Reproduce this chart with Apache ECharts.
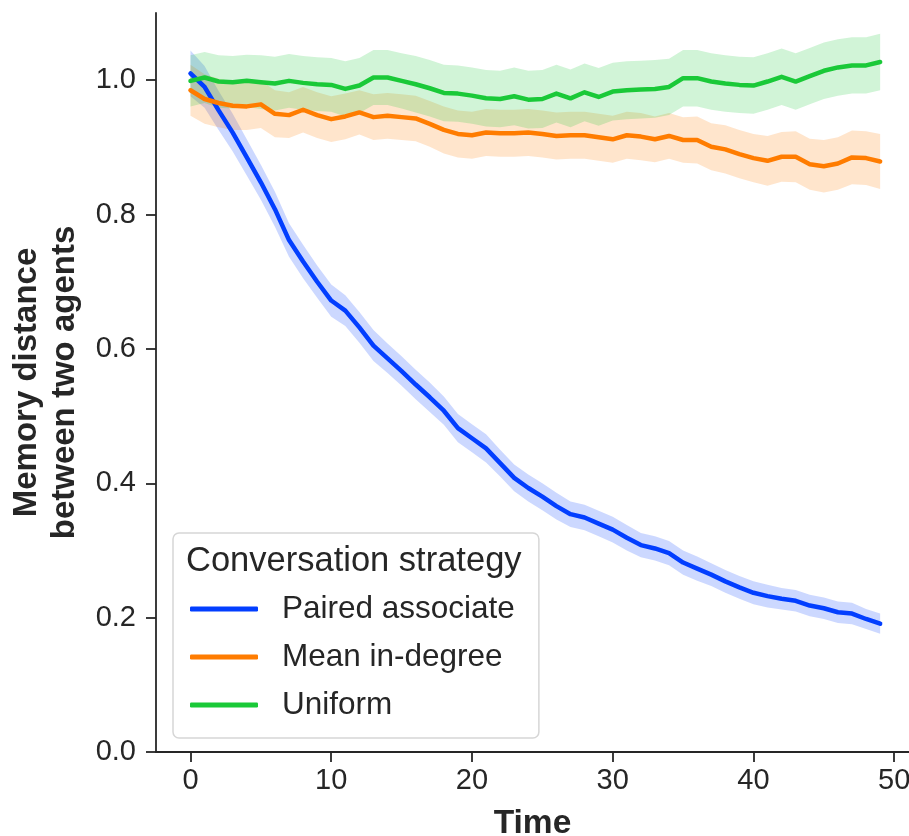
<!DOCTYPE html>
<html>
<head>
<meta charset="utf-8">
<script src="https://cdn.jsdelivr.net/npm/echarts@6.0.0/dist/echarts.min.js"></script>
<style>
	html, body { margin: 0; padding: 0; background: #fff; }
	#chart { width: 909px; height: 836px; }
</style>
</head>
<body>
<div id="chart"></div>
<script>
// time steps
var time = [0, 1, 2, 3, 4, 5, 6, 7, 8, 9, 10, 11, 12, 13, 14, 15, 16, 17, 18, 19,
	20, 21, 22, 23, 24, 25, 26, 27, 28, 29, 30, 31, 32, 33, 34, 35, 36, 37, 38, 39,
	40, 41, 42, 43, 44, 45, 46, 47, 48, 49];

var strategies = ['Paired associate', 'Mean in-degree', 'Uniform'];

// mean memory distance per strategy
var pairedAssociate = [1.010, 0.990, 0.955, 0.922, 0.885, 0.848, 0.808, 0.762, 0.730, 0.700,
	0.672, 0.657, 0.632, 0.605, 0.586, 0.567, 0.547, 0.528, 0.508, 0.482,
	0.467, 0.452, 0.430, 0.408, 0.393, 0.380, 0.366, 0.354, 0.349, 0.340,
	0.331, 0.319, 0.308, 0.303, 0.296, 0.282, 0.273, 0.264, 0.254, 0.245,
	0.237, 0.232, 0.228, 0.225, 0.218, 0.214, 0.208, 0.206, 0.198, 0.191];
var meanInDegree = [0.985, 0.972, 0.966, 0.962, 0.961, 0.964, 0.950, 0.948, 0.956, 0.948,
	0.942, 0.946, 0.952, 0.945, 0.947, 0.945, 0.943, 0.935, 0.926, 0.920,
	0.918, 0.922, 0.921, 0.921, 0.922, 0.920, 0.917, 0.918, 0.918, 0.915,
	0.912, 0.918, 0.916, 0.912, 0.917, 0.911, 0.911, 0.901, 0.897, 0.890,
	0.884, 0.880, 0.886, 0.886, 0.875, 0.872, 0.876, 0.885, 0.884, 0.879];
var uniform = [0.999, 1.004, 0.998, 0.997, 0.999, 0.997, 0.995, 0.999, 0.996, 0.994,
	0.993, 0.987, 0.992, 1.004, 1.004, 0.999, 0.994, 0.988, 0.981, 0.980,
	0.977, 0.973, 0.972, 0.976, 0.971, 0.972, 0.980, 0.973, 0.982, 0.975,
	0.983, 0.985, 0.986, 0.987, 0.990, 1.003, 1.003, 0.998, 0.995, 0.993,
	0.992, 0.998, 1.005, 0.998, 1.006, 1.014, 1.019, 1.022, 1.022, 1.027];

// half width of the confidence band
var ciPaired = [0.034, 0.031, 0.029, 0.028, 0.027, 0.026, 0.026, 0.025, 0.025, 0.024,
	0.024, 0.023, 0.023, 0.023, 0.022, 0.022, 0.022, 0.022, 0.021, 0.021,
	0.021, 0.021, 0.020, 0.020, 0.020, 0.020, 0.020, 0.019, 0.019, 0.019,
	0.019, 0.019, 0.018, 0.018, 0.018, 0.018, 0.018, 0.017, 0.017, 0.017,
	0.017, 0.017, 0.016, 0.016, 0.016, 0.016, 0.016, 0.016, 0.015, 0.015];
var ciMean = [0.038, 0.037, 0.036, 0.036, 0.035, 0.035, 0.035, 0.034, 0.034, 0.034,
	0.034, 0.034, 0.033, 0.034, 0.034, 0.034, 0.034, 0.034, 0.035, 0.035,
	0.035, 0.035, 0.035, 0.035, 0.035, 0.035, 0.035, 0.035, 0.035, 0.035,
	0.035, 0.035, 0.035, 0.034, 0.034, 0.034, 0.035, 0.035, 0.036, 0.036,
	0.036, 0.037, 0.037, 0.038, 0.038, 0.039, 0.039, 0.040, 0.040, 0.041];
var ciUniform = [0.038, 0.038, 0.039, 0.039, 0.039, 0.040, 0.040, 0.040, 0.040, 0.040,
	0.040, 0.041, 0.041, 0.041, 0.041, 0.041, 0.042, 0.042, 0.042, 0.042,
	0.042, 0.042, 0.042, 0.043, 0.043, 0.043, 0.043, 0.043, 0.043, 0.043,
	0.043, 0.043, 0.043, 0.043, 0.042, 0.042, 0.042, 0.042, 0.042, 0.042,
	0.042, 0.042, 0.042, 0.042, 0.042, 0.042, 0.042, 0.042, 0.042, 0.042];

var xTicks = [0, 10, 20, 30, 40, 50];
var yTicks = [0, 0.2, 0.4, 0.6, 0.8, 1.0];

var colors = ['#023eff', '#ff7c00', '#1ac938'];
var bandColors = ['rgba(2,62,255,0.2)', 'rgba(255,124,0,0.2)', 'rgba(26,201,56,0.2)'];
var means = [pairedAssociate, meanInDegree, uniform];
var cis = [ciPaired, ciMean, ciUniform];

var textColor = '#262626';
var chart = echarts.init(document.getElementById('chart'));

// confidence band as one polygon: lower edge forward, upper edge back
function bandRenderer(k) {
	return function(params, api) {
		if (params.dataIndex !== 0) return;
		var m = means[k], ci = cis[k];
		var pts = [];
		for (var i = 0; i < time.length; i++) {
			pts.push(api.coord([time[i], m[i] - ci[i]]));
		}
		for (var j = time.length - 1; j >= 0; j--) {
			pts.push(api.coord([time[j], m[j] + ci[j]]));
		}
		return {
			type: 'polygon',
			shape: { points: pts },
			style: { fill: bandColors[k], stroke: 'none' }
		};
	};
}

var series = [];
means.forEach(function(m, k) {
	series.push({
		name: strategies[k] + ' band',
		type: 'custom',
		silent: true,
		renderItem: bandRenderer(k),
		encode: { x: 0, y: [1, 2] },
		data: time.map(function(t, i) { return [t, m[i] - cis[k][i], m[i] + cis[k][i]]; }),
		z: 1
	});
});
means.forEach(function(m, k) {
	series.push({
		name: strategies[k],
		type: 'line',
		symbol: 'none',
		color: colors[k],
		lineStyle: { color: colors[k], width: 4.5, cap: 'round', join: 'round' },
		data: time.map(function(t, i) { return [t, m[i]]; }),
		z: 3
	});
});

var option = {
	animation: false,
	backgroundColor: '#ffffff',
	textStyle: { fontFamily: 'Liberation Sans, Arial, sans-serif' },
	title: {
		text: 'Conversation strategy',
		left: 186,
		top: 544,
		padding: 0,
		textStyle: { fontSize: 34.5, fontWeight: 'normal', color: textColor }
	},
	legend: {
		orient: 'vertical',
		left: 173,
		top: 533,
		padding: [52, 24, 9, 17],
		itemGap: 0,
		itemWidth: 68,
		itemHeight: 5,
		icon: 'roundRect',
		backgroundColor: 'rgba(255,255,255,0.85)',
		borderColor: '#d6d6d6',
		borderWidth: 1.5,
		borderRadius: 6,
		textStyle: { fontSize: 31.5, color: textColor, lineHeight: 48, padding: [0, 0, 0, 19] },
		data: strategies
	},
	grid: { left: 156, right: 0, top: 13, bottom: 84, outerBoundsMode: 'none' },
	xAxis: {
		type: 'value',
		min: -2.45,
		max: 51.05,
		name: 'Time',
		nameLocation: 'middle',
		nameGap: 55,
		nameTextStyle: { fontSize: 33.5, fontWeight: 'bold', color: textColor },
		axisLine: { onZero: false, lineStyle: { color: textColor, width: 1.8 } },
		axisTick: { length: 10, customValues: xTicks, lineStyle: { color: textColor, width: 1.8 } },
		axisLabel: { customValues: xTicks, fontSize: 29, color: textColor, margin: 14 },
		splitLine: { show: false }
	},
	yAxis: {
		type: 'value',
		min: 0,
		max: 1.1,
		name: 'Memory distance\nbetween two agents',
		nameLocation: 'middle',
		nameGap: 72,
		nameTextStyle: { fontSize: 33, fontWeight: 'bold', color: textColor, lineHeight: 38 },
		axisLine: { show: true, onZero: false, lineStyle: { color: textColor, width: 1.8 } },
		axisTick: { show: true, length: 10, customValues: yTicks, lineStyle: { color: textColor, width: 1.8 } },
		axisLabel: {
			customValues: yTicks,
			fontSize: 29,
			color: textColor,
			margin: 20,
			formatter: function(v) { return v.toFixed(1); }
		},
		splitLine: { show: false }
	},
	series: series
};
chart.setOption(option);
</script>
</body>
</html>
